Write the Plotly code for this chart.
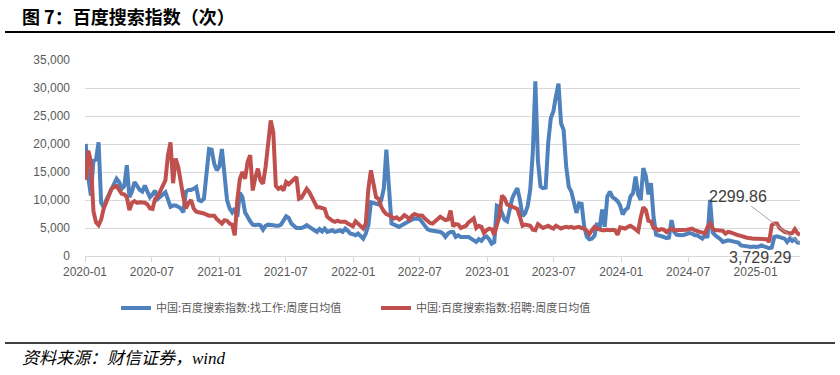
import datetime as dt
import plotly.graph_objects as go

start_date = dt.date(2020, 1, 3)

job_search = [
    20000, 14000, 10800, 17000, 17200, 20300, 9500, 8700, 10000, 11000,
    12000, 13000, 13800, 13200, 12000, 12500, 16200, 10500, 11500, 13200,
    12500, 11800, 11500, 12600, 11500, 10500, 11000, 11700, 10200, 10500,
    11000, 11400, 10000, 8800, 9000, 9000, 8800, 8500, 7800, 11500,
    11800, 11800, 12000, 12300, 10000, 9800, 10200, 14000, 19100, 19000,
    16500, 15300, 16000, 19100, 15000, 10000, 8500, 7800, 8500, 7000,
    11300, 10500, 7800, 6800, 6200, 5600, 5500, 5600, 5500, 4700,
    5400, 5600, 5600, 5500, 5400, 5400, 5600, 6500, 7100, 6800,
    5800, 5400, 5000, 5000, 5000, 5200, 5500, 5200, 4800, 4600,
    4300, 4800, 4400, 4900, 4300, 4400, 4600, 4300, 4500, 4600,
    4300, 4900, 4500, 4000, 3900, 3700, 4000, 3600, 3100, 4000,
    5500, 9600, 9500, 9400, 9200, 9900, 12000, 19000, 13000, 5800,
    5600, 5400, 5200, 5500, 5800, 6000, 6200, 6500, 6700, 6700,
    6600, 6000, 5500, 4800, 4600, 4500, 4400, 4300, 4300, 4000,
    3400, 4000, 4300, 4300, 3400, 3700, 3400, 3400, 3400, 3400,
    3100, 2800, 2500, 3000, 2700, 3300, 3500, 3000, 2200, 2500,
    9000, 8800, 7800, 6500, 6200, 8000, 10300, 11300, 12100, 10000,
    7100, 7600, 8900, 11800, 18400, 31200, 17000, 12400, 12100, 12200,
    20200, 24600, 25800, 28500, 30800, 23700, 22500, 16000, 12400, 11500,
    9500, 7700, 9400, 9300, 5300, 3500, 3000, 3100, 3600, 5900,
    4900, 8300, 5200, 10600, 11500, 10500, 10200, 9800, 9000, 7400,
    8200, 8600, 10600, 11200, 14200, 11000, 10000, 15700, 14300, 11000,
    13000, 7000, 3800, 3700, 3500, 3400, 3200, 3300, 6400, 4300,
    3800, 3700, 3700, 3800, 3900, 4100, 4000, 3700, 3700, 3400,
    3100, 3700, 3300, 10000, 4200, 3700, 3400, 3000, 2500, 2600,
    2800, 2700, 2600, 2600, 2400, 1900, 1800, 1700, 1600, 1600,
    1700, 1600, 1700, 1900, 1700, 1500, 1400, 1500, 3400, 3500,
    3400, 3200, 3100, 2500, 3100, 2700, 3000, 2400, 2299.86,
]

recruit = [
    13600, 18800, 16900, 8000, 6000, 5500, 6500, 8500, 9600, 11000,
    12000, 12300, 12500, 11800, 11100, 11000, 10500, 8200, 9500, 9800,
    9500, 9600, 9600, 9500, 9200, 8500, 8400, 10200, 10600, 11500,
    12300, 13500, 18000, 20300, 13000, 17400, 15900, 12900, 10500, 8500,
    9500, 10000, 8500, 7900, 7800, 7800, 7600, 7400, 7200, 7200,
    7200, 6600, 6300, 5800, 6400, 6300, 5800, 5600, 3700, 10000,
    13800, 15000, 13800, 16800, 18000, 11700, 14000, 15600, 13500, 12900,
    15900, 20600, 24200, 22100, 12500, 12000, 12300, 11700, 13200, 12800,
    13300, 13700, 14100, 10200, 10400, 11200, 12000, 11400, 10500, 9300,
    8700, 8700, 8600, 8400, 7000, 6600, 6300, 6100, 6300, 6100,
    6100, 6100, 5800, 5500, 5300, 6200, 5700, 5300, 4900, 5800,
    12000, 15300, 13000, 10500, 10200, 8800, 8000, 7500, 7300, 7000,
    6700, 6900, 6500, 6800, 7300, 7000, 6500, 7200, 7500, 7300,
    7300, 7200, 6700, 6300, 5900, 5800, 6100, 6600, 7000, 6700,
    6400, 6500, 8100, 5300, 5700, 5600, 5000, 5200, 5400, 6000,
    6400, 6700, 5000, 5400, 5200, 4100, 4600, 4900, 4800, 3800,
    5500, 7000, 10800, 10300, 9200, 9000, 8700, 8600, 8400, 7000,
    5400, 5600, 5500, 5400, 4700, 4600, 5700, 5300, 5000, 5200,
    5400, 5100, 4900, 5400, 5200, 4900, 5100, 5200, 5100, 5200,
    5000, 5100, 5200, 5000, 4900, 4500, 3900, 4600, 5200, 4900,
    4700, 4600, 4600, 4700, 4600, 4700, 4600, 3800, 5100, 5000,
    4900, 5200, 5400, 5100, 4700, 4400, 6900, 8700, 8200, 6300,
    6200, 5000, 4900, 4600, 4800, 4700, 4300, 4700, 4900, 4600,
    4600, 4700, 4600, 4600, 4700, 4800, 4900, 4600, 4400, 4300,
    4200, 4000, 5200, 5800, 4900, 4600, 4600, 4600, 4500, 4000,
    4300, 4200, 4000, 3800, 3700, 3600, 3400, 3300, 3200, 3100,
    3100, 3100, 3100, 3100, 3000, 3000, 2500, 5500, 5800, 5800,
    5000, 4600, 4300, 4200, 4000, 4100, 4800, 4100, 3729.29,
]

series_names = ["中国:百度搜索指数:找工作:周度日均值", "中国:百度搜索指数:招聘:周度日均值"]
dates = [start_date + dt.timedelta(days=7 * i) for i in range(len(job_search))]

BLUE = "#4F81BD"
RED = "#C0504D"
GRID = "#D9D9D9"
TXT = "#595959"
NUM_FONT = "Liberation Sans, Noto Sans CJK SC"
CJK_FONT = "Noto Sans CJK SC"

L, R, T, B = 85, 40, 60, 119
pw, ph = 840 - L - R, 375 - T - B


def px(xp):
    return (xp - L) / pw


def py(yp):
    return (375 - B - yp) / ph


fig = go.Figure()
fig.add_trace(go.Scatter(x=dates, y=job_search, mode="lines", name=series_names[0],
                         line=dict(color=BLUE, width=4)))
fig.add_trace(go.Scatter(x=dates, y=recruit, mode="lines", name=series_names[1],
                         line=dict(color=RED, width=4)))

fig.update_layout(
    width=840, height=375,
    margin=dict(l=L, r=R, t=T, b=B),
    paper_bgcolor="white", plot_bgcolor="white",
    font=dict(family=NUM_FONT, size=12, color=TXT),
    showlegend=True,
    legend=dict(orientation="h", x=px(376), xanchor="center", y=py(308), yanchor="middle",
                font=dict(family=CJK_FONT, size=11, color=TXT),
                entrywidth=215, itemwidth=30, bgcolor="rgba(0,0,0,0)"),
)

fig.update_xaxes(
    type="date",
    range=[dt.date(2020, 1, 1), dates[-1]],
    tick0="2020-01-01", dtick="M6", tickformat="%Y-%m",
    ticks="outside", ticklen=5, tickcolor=GRID, tickwidth=1,
    showline=True, linecolor=GRID, linewidth=1,
    showgrid=False, zeroline=False,
    tickfont=dict(family=NUM_FONT, size=12, color=TXT),
)
fig.update_yaxes(
    range=[0, 35000], dtick=5000, tickformat=",",
    showgrid=True, gridcolor=GRID, gridwidth=1,
    zeroline=False, showline=False, ticks="",
    ticklabelstandoff=14,
    tickfont=dict(family=NUM_FONT, size=12, color=TXT),
)

# data labels for last points
fig.add_annotation(x=dates[-1], y=job_search[-1], xref="x", yref="y",
                   text=f"{job_search[-1]:.2f}", showarrow=True, arrowhead=0,
                   arrowwidth=1, arrowcolor="#A6A6A6", ax=-62, ay=-47,
                   font=dict(family=NUM_FONT, size=16, color="#404040"))
fig.add_annotation(x=dates[-1], y=recruit[-1], xref="x", yref="y",
                   text=f"{recruit[-1]:,.2f}", showarrow=False,
                   xshift=-40, yshift=-22,
                   font=dict(family=NUM_FONT, size=16, color="#404040"))

# title and footer
fig.add_annotation(x=px(20), y=py(16), xref="paper", yref="paper", text="<b>图 7：百度搜索指数（次）</b>",
                   showarrow=False, xanchor="left", yanchor="middle",
                   font=dict(family=CJK_FONT, size=18, color="#000000"))
fig.add_annotation(x=px(20), y=py(358), xref="paper", yref="paper", text="资料来源：财信证券，wind",
                   showarrow=False, xanchor="left", yanchor="middle",
                   font=dict(family="Liberation Serif, " + CJK_FONT, size=17, color="#000000", style="italic"))

fig.add_shape(type="line", xref="paper", yref="paper", x0=px(5), x1=px(835), y0=py(32), y1=py(32),
              line=dict(color="#000000", width=2))
fig.add_shape(type="line", xref="paper", yref="paper", x0=px(5), x1=px(835), y0=py(343), y1=py(343),
              line=dict(color="#000000", width=1.5))

fig.write_html("out.html")
